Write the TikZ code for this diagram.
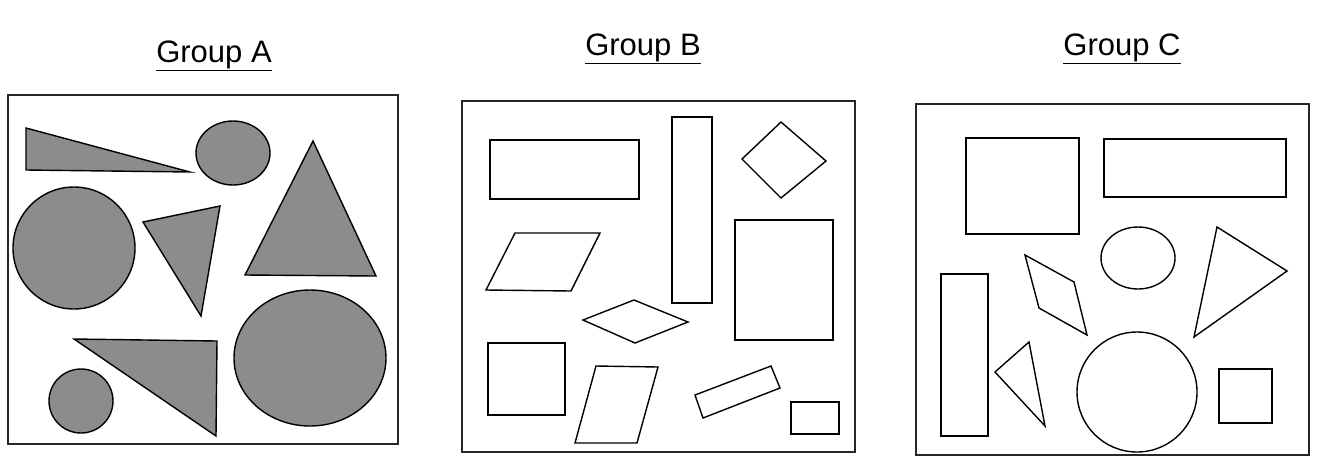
\documentclass[tikz,border=0pt]{standalone}
\usepackage{fontspec}
\setmainfont{Liberation Sans}
\usepackage{tikz}
\definecolor{shade}{HTML}{8C8C8C}
\tikzset{
  frame/.style={draw=black!85,line width=1.6pt},
  fig/.style={draw=black,line width=1.4pt,line join=miter},
  sfig/.style={fig,fill=shade},
  title/.style={font=\fontsize{31}{36}\selectfont,inner sep=0pt,anchor=base},
}
\begin{document}
\begin{tikzpicture}[x=1pt,y=-1pt]
\useasboundingbox (0,0) rectangle (1317,459);
% titles
\node[title] (tA) at (214,62) {\underline{Group A}};
\node[title] (tB) at (643,55) {\underline{Group B}};
\node[title] (tC) at (1122,55) {\underline{Group C}};
% frames
\draw[frame] (8,95) rectangle (398,444);
\draw[frame] (462,101) rectangle (855,452);
\draw[frame] (916,104) rectangle (1309,455);
% group A: shaded shapes
\draw[sfig] (26,128) -- (26,170) -- (190,172) -- cycle;
\draw[sfig] (233,153) circle[x radius=37,y radius=32];
\draw[sfig] (74,248) circle[radius=61];
\draw[sfig] (143,222) -- (220,206) -- (201,316) -- cycle;
\draw[sfig] (313,141) -- (245,275) -- (376,276) -- cycle;
\draw[sfig] (74,339) -- (217,341) -- (216,436) -- cycle;
\draw[sfig] (81,401) circle[radius=32];
\draw[sfig] (310,358) circle[x radius=76,y radius=68];
% group B: four-sided shapes
\draw[fig] (490,140) rectangle (639,199);
\draw[fig] (672,117) rectangle (712,303);
\draw[fig] (781,122) -- (826,161) -- (781,198) -- (742,159) -- cycle;
\draw[fig] (515,233) -- (600,233) -- (571,291) -- (486,290) -- cycle;
\draw[fig] (735,220) rectangle (833,340);
\draw[fig] (583,320) -- (634,300) -- (688,322) -- (635,343) -- cycle;
\draw[fig] (488,343) rectangle (565,415);
\draw[fig] (596,366) -- (658,367) -- (637,443) -- (575,443) -- cycle;
\draw[fig] (695,395) -- (771,366) -- (780,388) -- (703,418) -- cycle;
\draw[fig] (791,402) rectangle (839,434);
% group C: mixed shapes
\draw[fig] (966,138) rectangle (1079,234);
\draw[fig] (1104,139) rectangle (1286,197);
\draw[fig] (1138,258) circle[x radius=37,y radius=31];
\draw[fig] (1025,255) -- (1074,282) -- (1087,335) -- (1039,308) -- cycle;
\draw[fig] (1217,227) -- (1287,271) -- (1194,337) -- cycle;
\draw[fig] (941,274) rectangle (988,436);
\draw[fig] (1029,342) -- (995,372) -- (1045,426) -- cycle;
\draw[fig] (1137,392) circle[radius=60];
\draw[fig] (1219,369) rectangle (1272,423);
\end{tikzpicture}
\end{document}
